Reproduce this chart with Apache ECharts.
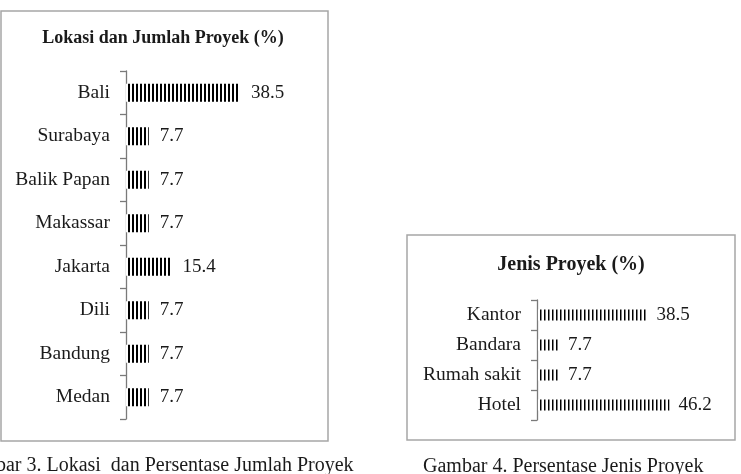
<!DOCTYPE html>
<html>
<head>
<meta charset="utf-8">
<script src="https://cdn.jsdelivr.net/npm/echarts@6/dist/echarts.min.js"></script>
<style>
  html, body { margin: 0; padding: 0; background: #fff; }
  #chart { width: 741px; height: 474px; }
</style>
</head>
<body>
<div id="chart"></div>
<script>
const lokasiCategories = ["Bali", "Surabaya", "Balik Papan", "Makassar", "Jakarta", "Dili", "Bandung", "Medan"];
const lokasiValues = [38.5, 7.7, 7.7, 7.7, 15.4, 7.7, 7.7, 7.7];
const jenisCategories = ["Kantor", "Bandara", "Rumah sakit", "Hotel"];
const jenisValues = [38.5, 7.7, 7.7, 46.2];

const serif = '"Liberation Serif", "Times New Roman", serif';
const ink = "#1a1a1a";

// vertical stripe fill like the original hatching
const makeStripes = (period, lineWidth) => {
  const c = document.createElement("canvas");
  c.width = period;
  c.height = 4;
  const ctx = c.getContext("2d");
  ctx.fillStyle = "#fff";
  ctx.fillRect(0, 0, period, 4);
  ctx.fillStyle = "#000";
  ctx.fillRect(0, 0, lineWidth, 4);
  return { image: c, repeat: "repeat" };
};

const chart = echarts.init(document.getElementById("chart"));

const yAxisBase = (gridIndex, data, fontSize, margin) => ({
  type: "category",
  gridIndex,
  data,
  inverse: true,
  axisLine: { show: true, lineStyle: { color: "#7a7a7a", width: 1.3 } },
  axisTick: { show: true, length: 6, lineStyle: { color: "#7a7a7a", width: 1.3 } },
  axisLabel: { color: ink, fontFamily: serif, fontSize, margin }
});

const xAxisBase = (gridIndex) => ({
  type: "value",
  gridIndex,
  min: 0,
  max: 50,
  show: false
});

chart.setOption({
  backgroundColor: "#fff",
  animation: false,
  title: [
    {
      text: "Lokasi dan Jumlah Proyek (%)",
      left: 158,
      top: 24,
      textAlign: "center",
      textStyle: { fontFamily: serif, fontWeight: "bold", fontSize: 18, color: ink }
    },
    {
      text: "Jenis Proyek (%)",
      left: 566,
      top: 250,
      textAlign: "center",
      textStyle: { fontFamily: serif, fontWeight: "bold", fontSize: 20, color: ink }
    }
  ],
  grid: [
    { left: 126, top: 71, width: 148, height: 348 },
    { left: 537, top: 300, width: 143.5, height: 120 }
  ],
  xAxis: [xAxisBase(0), xAxisBase(1)],
  yAxis: [
    yAxisBase(0, lokasiCategories, 19.5, 16),
    yAxisBase(1, jenisCategories, 19.5, 16)
  ],
  series: [
    {
      type: "bar",
      xAxisIndex: 0,
      yAxisIndex: 0,
      data: lokasiValues,
      barWidth: 18,
      itemStyle: { color: makeStripes(4, 2) },
      label: {
        show: true,
        position: "right",
        distance: 11,
        color: ink,
        fontFamily: serif,
        fontSize: 19
      },
      emphasis: { disabled: true }
    },
    {
      type: "bar",
      xAxisIndex: 1,
      yAxisIndex: 1,
      data: jenisValues,
      barWidth: 11,
      itemStyle: { color: makeStripes(4, 1.5) },
      label: {
        show: true,
        position: "right",
        distance: 9,
        color: ink,
        fontFamily: serif,
        fontSize: 19
      },
      emphasis: { disabled: true }
    }
  ],
  graphic: [
    {
      type: "rect",
      shape: { x: 1, y: 11, width: 327, height: 430 },
      style: { fill: "none", stroke: "#a6a6a6", lineWidth: 1.5 },
      silent: true
    },
    {
      type: "rect",
      shape: { x: 407, y: 235, width: 328, height: 205 },
      style: { fill: "none", stroke: "#a6a6a6", lineWidth: 1.5 },
      silent: true
    },
    {
      type: "text",
      x: -43,
      y: 456,
      style: {
        text: "Gambar 3. Lokasi  dan Persentase Jumlah Proyek",
        fill: ink,
        font: "20px " + serif
      },
      silent: true
    },
    {
      type: "text",
      x: 423,
      y: 457,
      style: {
        text: "Gambar 4. Persentase Jenis Proyek",
        fill: ink,
        font: "20px " + serif
      },
      silent: true
    }
  ]
});
</script>
</body>
</html>
